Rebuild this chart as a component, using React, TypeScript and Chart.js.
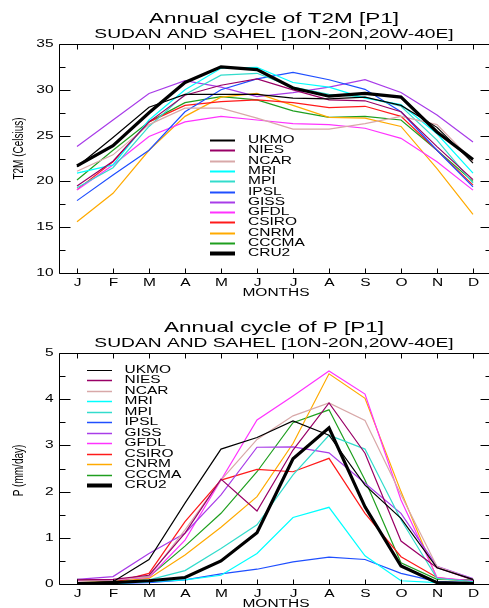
import React, { useEffect, useRef } from "react";
import { Chart, registerables } from "chart.js";

Chart.register(...registerables);

// ---------- data ----------
const months = ["J", "F", "M", "A", "M", "J", "J", "A", "S", "O", "N", "D"];
const models = ["UKMO", "NIES", "NCAR", "MRI", "MPI", "IPSL", "GISS", "GFDL", "CSIRO", "CNRM", "CCCMA", "CRU2"];
const modelColors = ["#000000", "#990066", "#d8a8a8", "#00ffff", "#33dccc", "#1f4fff", "#a83ce8", "#ff33ff", "#ff1a1a", "#ffaa00", "#1f9f1f", "#000000"];

const t2mUKMO = [21.6, 24.8, 28.1, 29.5, 29.5, 29.5, 29.1, 29.0, 29.2, 28.3, 25.9, 22.0];
const t2mNIES = [19.5, 22.2, 26.5, 29.4, 30.5, 31.2, 30.0, 28.9, 28.8, 27.6, 23.8, 20.2];
const t2mNCAR = [21.1, 22.9, 26.2, 28.0, 28.0, 26.9, 25.7, 25.7, 26.3, 27.1, 26.2, 22.2];
const t2mMRI = [20.9, 21.8, 26.7, 30.0, 32.35, 32.45, 30.8, 30.3, 29.1, 28.4, 25.2, 20.9];
const t2mMPI = [19.3, 21.5, 26.0, 29.5, 31.6, 31.8, 30.3, 29.5, 29.2, 28.2, 24.5, 19.8];
const t2mIPSL = [17.9, 20.7, 23.4, 27.6, 30.0, 31.2, 31.9, 31.1, 30.05, 27.6, 23.4, 19.4];
const t2mGISS = [23.8, 26.7, 29.6, 31.0, 30.3, 29.25, 29.7, 30.3, 31.1, 29.7, 27.25, 24.3];
const t2mGFDL = [19.05, 21.8, 24.9, 26.5, 27.1, 26.7, 26.3, 26.2, 25.8, 24.7, 22.15, 19.05];
const t2mCSIRO = [19.1, 22.15, 26.5, 28.3, 28.7, 28.9, 28.6, 28.05, 28.2, 27.1, 23.4, 19.6];
const t2mCNRM = [15.6, 18.7, 23.4, 27.1, 29.2, 29.6, 28.3, 27.0, 26.9, 26.0, 21.4, 16.4];
const t2mCCCMA = [20.15, 23.4, 26.5, 28.6, 29.25, 28.9, 27.7, 27.0, 27.1, 26.7, 23.4, 20.0];
const t2mCRU2 = [21.7, 23.9, 27.5, 30.8, 32.5, 32.2, 30.2, 29.3, 29.6, 29.2, 25.4, 22.4];

const prUKMO = [0.01, 0.05, 0.53, 1.75, 2.92, 3.17, 3.53, 3.22, 2.14, 1.42, 0.35, 0.1];
const prNIES = [0.09, 0.1, 0.19, 1.1, 2.27, 1.58, 2.9, 3.92, 2.83, 0.93, 0.35, 0.09];
const prNCAR = [0.07, 0.09, 0.16, 1.17, 2.25, 3.13, 3.64, 3.92, 3.54, 1.93, 0.38, 0.1];
const prMRI = [0.01, 0.01, 0.05, 0.09, 0.19, 0.66, 1.44, 1.66, 0.61, 0.07, 0.03, 0.01];
const prMPI = [0.01, 0.03, 0.09, 0.29, 0.77, 1.28, 2.36, 3.22, 2.92, 1.39, 0.12, 0.05];
const prIPSL = [0.01, 0.01, 0.03, 0.09, 0.22, 0.32, 0.48, 0.58, 0.53, 0.23, 0.05, 0.03];
const prGISS = [0.1, 0.16, 0.66, 1.1, 1.93, 2.96, 2.97, 2.84, 2.18, 1.53, 0.38, 0.12];
const prGFDL = [0.07, 0.09, 0.14, 0.95, 2.25, 3.55, 4.07, 4.61, 4.11, 1.82, 0.14, 0.07];
const prCSIRO = [0.01, 0.03, 0.23, 1.35, 2.25, 2.48, 2.43, 2.72, 1.53, 0.59, 0.14, 0.05];
const prCNRM = [0.03, 0.05, 0.12, 0.63, 1.23, 1.89, 3.04, 4.55, 4.02, 2.0, 0.12, 0.05];
const prCCCMA = [0.1, 0.07, 0.16, 0.82, 1.53, 2.43, 3.49, 3.77, 2.25, 0.46, 0.1, 0.09];
const prCRU2 = [0.01, 0.03, 0.07, 0.14, 0.5, 1.11, 2.71, 3.38, 1.67, 0.39, 0.03, 0.01];

const t2mSeries = [t2mUKMO, t2mNIES, t2mNCAR, t2mMRI, t2mMPI, t2mIPSL, t2mGISS, t2mGFDL, t2mCSIRO, t2mCNRM, t2mCCCMA, t2mCRU2];
const prSeries = [prUKMO, prNIES, prNCAR, prMRI, prMPI, prIPSL, prGISS, prGFDL, prCSIRO, prCNRM, prCCCMA, prCRU2];

// ---------- drawing helpers ----------
const SX = 1.55;
const FONT = '"Liberation Sans", Arial, Helvetica, sans-serif';

function stretchedText(ctx: CanvasRenderingContext2D, text: string, x: number, y: number, size: number, align: string, baseline: CanvasTextBaseline, sx: number = SX) {
  ctx.save();
  ctx.font = `${size}px ${FONT}`;
  ctx.textAlign = "left";
  ctx.textBaseline = baseline;
  const w = ctx.measureText(text).width * sx;
  const x0 = align === "center" ? x - w / 2 : align === "right" ? x - w : x;
  ctx.translate(x0, y);
  ctx.scale(sx, 1);
  ctx.fillStyle = "#000";
  ctx.fillText(text, 0, 0);
  ctx.restore();
}

const idlPlugin = {
  id: "idl",
  afterDatasetsDraw(chart: any, _args: any, opts: any) {
    const ctx: CanvasRenderingContext2D = chart.ctx;
    const ca = chart.chartArea;
    const xs = chart.scales.x;
    const ys = chart.scales.y;
    ctx.save();
    ctx.strokeStyle = "#000";
    ctx.lineWidth = 1;
    const L = Math.round(ca.left) + 0.5;
    const R = Math.round(ca.right) + 0.5;
    const T = Math.round(ca.top) + 0.5;
    const B = Math.round(ca.bottom) + 0.5;
    ctx.beginPath();
    ctx.rect(L, T, R - L, B - T);
    ctx.stroke();
    // x ticks + labels
    xs.ticks.forEach((_t: any, i: number) => {
      const px = Math.round(xs.getPixelForTick(i)) + 0.5;
      ctx.beginPath();
      ctx.moveTo(px, B);
      ctx.lineTo(px, B - 5);
      ctx.moveTo(px, T);
      ctx.lineTo(px, T + 5);
      ctx.stroke();
      stretchedText(ctx, months[i], px, B + 9.5, 10, "center", "middle");
    });
    // y ticks + labels
    ys.ticks.forEach((t: any) => {
      const v = t.value;
      const major = Math.abs(v / opts.major - Math.round(v / opts.major)) < 1e-6;
      const py = Math.round(ys.getPixelForValue(v)) + 0.5;
      const len = major ? 11 : 6;
      ctx.beginPath();
      ctx.moveTo(L, py);
      ctx.lineTo(L + len, py);
      ctx.moveTo(R, py);
      ctx.lineTo(R - len, py);
      ctx.stroke();
      if (major) stretchedText(ctx, String(v), L - 6, py, 10, "right", "middle");
    });
    const cx = (ca.left + ca.right) / 2;
    // titles
    stretchedText(ctx, opts.title, cx - 1, ca.top - 21.5, 14.5, "center", "alphabetic");
    stretchedText(ctx, opts.subtitle, cx - 1, ca.top - 6.3, 12.4, "center", "alphabetic");
    stretchedText(ctx, "MONTHS", cx + 1, ca.bottom + 20, 10, "center", "middle");
    // y title (rotated)
    ctx.save();
    ctx.translate(19, (ca.top + ca.bottom) / 2 + opts.yTitleShift);
    ctx.scale(SX, 1);
    ctx.rotate(-Math.PI / 2);
    ctx.font = `10px ${FONT}`;
    ctx.textAlign = "center";
    ctx.textBaseline = "middle";
    ctx.fillStyle = "#000";
    ctx.fillText(opts.yTitle, 0, 0);
    ctx.restore();
    // legend
    const lg = opts.legend;
    chart.data.datasets.forEach((ds: any, i: number) => {
      const y = Math.round(lg.y + i * lg.dy) + 0.5;
      ctx.beginPath();
      ctx.strokeStyle = ds.borderColor;
      ctx.lineWidth = ds.label === "CRU2" ? 4 : ds.label === "UKMO" ? lg.ukmoWidth : lg.width;
      ctx.moveTo(lg.x, y);
      ctx.lineTo(lg.x + lg.len, y);
      ctx.stroke();
      stretchedText(ctx, ds.label, lg.x + lg.len + lg.gap, y, 10, "left", "middle");
    });
    ctx.restore();
  },
};

function makeConfig(series: number[][], yMin: number, yMax: number, step: number, pluginOpts: any, xHeight: number, topPad: number): any {
  return {
    type: "line",
    data: {
      labels: months,
      datasets: models.map((m, i) => ({
        label: m,
        data: series[i],
        borderColor: modelColors[i],
        backgroundColor: modelColors[i],
        borderWidth: m === "CRU2" ? 3.2 : 1.2,
        pointRadius: 0,
        tension: 0,
        fill: false,
        order: m === "CRU2" ? -1 : i,
      })),
    },
    options: {
      responsive: false,
      animation: false,
      devicePixelRatio: 1,
      layout: { padding: { top: topPad, right: 1, left: 0, bottom: 0 } },
      plugins: { legend: { display: false }, tooltip: { enabled: false }, title: { display: false }, idl: pluginOpts },
      events: [],
      scales: {
        x: {
          type: "category",
          offset: true,
          grid: { display: false, drawTicks: false },
          border: { display: false },
          ticks: { display: false },
          afterFit: (s: any) => {
            s.height = xHeight;
          },
        },
        y: {
          type: "linear",
          min: yMin,
          max: yMax,
          grid: { display: false, drawTicks: false },
          border: { display: false },
          ticks: { display: false, stepSize: step },
          afterFit: (s: any) => {
            s.width = 59;
          },
        },
      },
    },
    plugins: [idlPlugin],
  };
}

function ChartCanvas({ config, height }: { config: any; height: number }) {
  const ref = useRef<HTMLCanvasElement>(null);
  useEffect(() => {
    if (!ref.current) return;
    const chart = new Chart(ref.current, config);
    return () => chart.destroy();
  }, []);
  return <canvas ref={ref} width={492} height={height} style={{ display: "block", width: 492, height }} />;
}

export default function App() {
  useEffect(() => {
    document.body.style.margin = "0";
    document.body.style.overflow = "hidden";
    document.body.style.background = "#fff";
  }, []);
  const topCfg = makeConfig(
    t2mSeries,
    10,
    35,
    2.5,
    {
      major: 5,
      title: "Annual cycle of T2M [P1]",
      subtitle: "SUDAN AND SAHEL [10N-20N,20W-40E]",
      yTitle: "T2M (Celsius)",
      yTitleShift: -10,
      legend: { x: 210, y: 140, dy: 10.3, len: 25, gap: 13, width: 2, ukmoWidth: 2 },
    },
    27,
    44
  );
  const botCfg = makeConfig(
    prSeries,
    0,
    5,
    0.5,
    {
      major: 1,
      title: "Annual cycle of P [P1]",
      subtitle: "SUDAN AND SAHEL [10N-20N,20W-40E]",
      yTitle: "P (mm/day)",
      yTitleShift: 2,
      legend: { x: 87, y: 70, dy: 10.45, len: 25, gap: 12.5, width: 1.5, ukmoWidth: 1 },
    },
    24,
    53
  );
  return (
    <div style={{ width: 489, height: 608, overflow: "hidden", background: "#fff" }}>
      <ChartCanvas config={topCfg} height={300} />
      <ChartCanvas config={botCfg} height={308} />
    </div>
  );
}
